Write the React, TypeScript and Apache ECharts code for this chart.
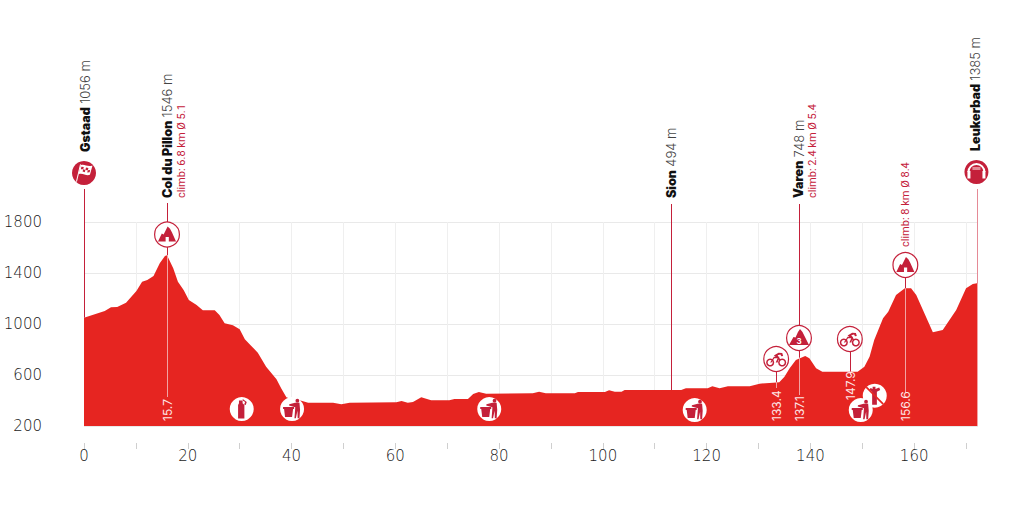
import React, { useEffect, useRef } from "react";
import * as echarts from "echarts";

// ---- profile data (km, metres) ----
const profileKm = [0,4,5.2,6.4,8.1,10.1,11.2,12.2,13.4,14.6,15.6,16,17.2,18.1,19.2,20.2,21.7,22.9,25.2,26.1,27.1,28.7,30,31,32.2,33.5,35.1,37.1,38,39,40,41.9,43.2,48,49.6,51.2,60.2,61.2,62.4,63.4,65,66.9,70.4,71.4,74,75,76.1,77.5,86.5,87.7,89,94.6,95.2,100.4,101.2,102.3,103.6,104.2,115.1,116,120.2,121.1,122.5,124.1,128.3,130.2,132.8,134,135,136,137.2,139,139.8,141.1,142.3,149.1,150.4,151.4,152.3,154,155,156.5,158.2,159.4,160.4,163.6,165.5,168.1,170,171.3,172.1,172.3];
const profileElev = [1050,1102,1131,1133,1167,1259,1332,1345,1376,1476,1533,1540,1437,1332,1267,1188,1149,1107,1107,1071,1005,990,958,880,830,775,665,566,496,425,410,398,383,383,370,383,386,396,383,388,425,401,401,412,412,451,467,453,456,469,456,456,467,467,480,469,469,482,482,496,496,511,496,511,511,532,540,543,587,652,718,749,731,652,626,626,665,743,875,1045,1097,1227,1280,1280,1227,935,953,1110,1280,1314,1320,1320];

// ---- axis labels ----
const xTickValues = [0,10,20,30,40,50,60,70,80,90,100,110,120,130,140,150,160,170];
const xLabelValues = [0,20,40,60,80,100,120,140,160];
const yLabelValues = [200,600,1000,1400,1800];

// ---- places ----
const placeNames = ["Gstaad","Col du Pillon","Sion","Varen","Leukerbad"];
const placeHeights = ["1056 m","1546 m","494 m","748 m","1385 m"];
const placeKm = [0,16,113.2,137.8,172.2];

// ---- climbs ----
const climbTexts = ["climb: 6.8 km Ø 5.1","climb: 2.4 km Ø 5.4","climb: 8 km Ø 8.4"];
const climbKm = [16,137.8,158.3];

// ---- stems and km readings ----
const stemKm = [0,16,113.2,137.8,158.3,133.4,147.6,172.2];
const stemElev = [1050,1540,482,735,1280,543,626,1320];
const stemLabels = ["","15.7","","137.1","156.6","133.4","147.9",""];

// ---- badges ----
const badgeKinds = ["flag","mountain1","mountain3","mountain1","bike","bike","bus"];
const badgeKm = [0,16,137.8,158.3,133.4,147.6,172.0];

// ---- feed / waste zones ----
const zoneKinds = ["bottle","trash","trash","trash","nolitter","trash"];
const zoneKm = [30.4,40.1,78.1,117.7,152.4,149.7];
const zoneElev = [333,333,333,325,438,325];

// ---- layout (pixels), separate from the data ----
const FONT = "Inter, Roboto, sans-serif";
const TICKFONT = "'DejaVu Sans', Inter, sans-serif";
const CRIMSON = "#c4203a";
const RED = "#e62521";
const PINK = "#f2a3a3";
const placeTextBottom = [152,198,198,198,151];
const placeTextDx = [1,0,0,0,-2];
const climbTextBottom = [198,198,247];
const climbTextDx = [14,13.5,0];
const stemTop = [189,203,204,204,278,372,352,189];
const stemBottom = [0,397,0,395,393,388,375,426];
const stemTextBottom = [0,421,0,421,421,421,400,0];
const badgeY = [173,234.5,338,265,359,339,172];

const P = {
  mountain1: "M0 15 L3.8 7 L5.6 8 L9.6 0 L12 2.2 L14 6 L18 15 L10.8 15 L10.8 10.5 L7.6 10.5 L7.6 15 Z",
  mountain3: "M0 16 L4.5 8 L6.5 8.6 L9 3 L11 0 L13.5 3 L15 6 L20 16 Z",
  trashBin: "M-9 -1 L2 -1 L2 1 L1 1 L0 9 L-7 9 L-8 1 L-9 1 Z",
  trashMan: "M3.4 -8.2 A1.9 1.9 0 1 1 7.2 -8.2 A1.9 1.9 0 1 1 3.4 -8.2 Z M3 -6 L7.4 -6 L8 1 L7.4 9.5 L5.6 9.5 L5.4 2 L3.8 9.5 L2.4 9.5 L3.2 -1.6 L-3 -3.4 L-2.8 -4.6 Z",
  bottle: "M-3 -10 L1 -10 L1 -7 L3 -5 L3 10 L-4 10 L-4 -5 L-3 -7 Z",
  bottleCap: "M2 -11 L6 -8 L5 -5 L3.4 -5.5 L4.4 -8 L2 -9.6 Z",
  bikeFrame: "M-7 3 L-3 -3 L3 -3 L1 3 L-1 3 L1 -1.5 L-2.5 -1.5 L-5.5 3 Z M-3 -4.5 L2 -7.5 L6 -7 L7 -4 L5 -3.5 L4 -5.4 L1 -4.6 L4 0 L3 1 L-1 -3 Z",
  flag: "M-3.4 -7.8 C0.5 -9.6 3.6 -5.4 8.6 -7.6 L6 2 C2 3.6 -1 -0.2 -5.6 1.4 Z",
  pole: "M-3.8 -9 L-2.8 -8.8 L-7 9 L-8 8.8 Z",
  flagCheck: "M-2.2 -6.4 L0.2 -6.2 L-0.4 -4 L-2.8 -4 Z M2.4 -5.6 L4.8 -5.2 L4.2 -3 L1.8 -3.2 Z M-0.4 -4 L1.8 -3.2 L1.2 -1 L-1 -1.6 Z M4.2 -3 L6.6 -3.2 L6 -1 L3.6 -0.8 Z",
  nolitter: "M-2 -10 L1 -10 L1 -7.5 L5 -9 L6 -6.5 L2.5 -4.6 L2.5 9 L-2.5 9 L-2.5 -4.6 L-5.5 -7 L-4 -8.6 L-2 -7.5 Z",
};

function icon(d: string, cx: number, cy: number, w: number, h: number, fill: string) {
  return { type: "path", shape: { pathData: d, x: cx - w / 2, y: cy - h / 2, width: w, height: h, layout: "center" }, style: { fill } };
}
function disc(cx: number, cy: number, r: number, fill: string, stroke?: string, lineWidth = 1.2) {
  return { type: "circle", shape: { cx, cy, r }, style: { fill, stroke, lineWidth } };
}
function seg(x: number, y1: number, y2: number, stroke: string, lineWidth = 1) {
  const rx = Math.round(x) + 0.5;
  return { type: "line", shape: { x1: rx, y1, x2: rx, y2 }, style: { stroke, lineWidth } };
}
function badgeGlyph(kind: string, x: number, y: number): any[] {
  if (kind === "flag") {
    return [
      icon(P.pole, x - 5.5, y, 5, 18, "#fff"),
      icon(P.flag, x + 1.5, y - 3, 14, 11, "#fff"),
      icon(P.flagCheck, x + 1.5, y - 3.4, 9.4, 5.6, CRIMSON),
    ];
  }
  if (kind === "mountain1") {
    return [icon(P.mountain1, x, y - 0.5, 18, 15, CRIMSON)];
  }
  if (kind === "mountain3") {
    return [
      icon(P.mountain3, x, y - 1, 20, 16, CRIMSON),
      { type: "text", x, y: y + 3, style: { text: "3", fill: "#fff", font: "700 8px " + FONT, align: "center", verticalAlign: "middle" } },
    ];
  }
  if (kind === "bike") {
    return [
      disc(x - 6, y + 3.5, 3.3, "none", CRIMSON, 1.5),
      disc(x + 6, y + 3.5, 3.3, "none", CRIMSON, 1.5),
      icon(P.bikeFrame, x + 0.5, y - 1.5, 13, 10, CRIMSON),
    ];
  }
  if (kind === "bus") {
    return [
      { type: "arc", shape: { cx: x, cy: y, r: 8, startAngle: Math.PI, endAngle: 2 * Math.PI }, style: { stroke: "#fff", lineWidth: 2, fill: "none" } },
      { type: "rect", shape: { x: x - 9, y: y - 1, width: 3, height: 7.5 }, style: { fill: "#fff" } },
      { type: "rect", shape: { x: x + 6, y: y - 1, width: 3, height: 7.5 }, style: { fill: "#fff" } },
      { type: "rect", shape: { x: x - 4, y: y - 5, width: 8, height: 3 }, style: { fill: "#e58a96" } },
    ];
  }
  return [];
}
function zoneGlyph(kind: string, x: number, y: number): any[] {
  if (kind === "bottle") {
    return [icon(P.bottle, x - 0.5, y + 0.5, 7, 18, CRIMSON), icon(P.bottleCap, x + 3, y - 7, 5, 6, CRIMSON)];
  }
  if (kind === "trash") {
    return [icon(P.trashBin, x - 3.5, y + 3, 11, 10, CRIMSON), icon(P.trashMan, x + 2.5, y - 0.5, 11, 20, CRIMSON)];
  }
  if (kind === "nolitter") {
    return [
      icon(P.nolitter, x, y, 11, 18, CRIMSON),
      { type: "line", shape: { x1: x - 8.5, y1: y - 8.5, x2: x + 8.5, y2: y + 8.5 }, style: { stroke: RED, lineWidth: 1.8 } },
    ];
  }
  return [];
}

const pairs = (a: number[], b: number[]) => a.map((v, i) => [v, b[i]]);
const onAxis = (a: number[]) => a.map((v) => [v, 200]);

export default function App() {
  const ref = useRef<HTMLDivElement>(null);
  useEffect(() => {
    const chart = echarts.init(ref.current!, null, { renderer: "svg" });
    const baseCustom = { type: "custom", coordinateSystem: "cartesian2d", clip: false, silent: true, encode: { x: 0, y: 1 } };
    const plain = (v: number) => String(v);
    chart.setOption({
      animation: false,
      backgroundColor: "#fff",
      grid: { left: 84, right: 46, top: 222, bottom: 86 },
      xAxis: {
        type: "value", min: 0, max: 172.3, interval: 10, offset: 17,
        axisLine: { show: false },
        axisTick: { show: true, length: 6, customValues: xTickValues, lineStyle: { color: "#cfcfcf", width: 1 } },
        axisLabel: { customValues: xLabelValues, formatter: plain, margin: 5, fontSize: 15, fontFamily: TICKFONT, fontWeight: 200, color: "#1a1a1a" },
        splitLine: { show: true, lineStyle: { color: "#efefef", width: 1 } },
      },
      yAxis: {
        type: "value", min: 200, max: 1800, interval: 200,
        axisLine: { show: false },
        axisTick: { show: false, customValues: yLabelValues },
        axisLabel: { customValues: yLabelValues, formatter: plain, margin: 42, fontSize: 15, fontFamily: TICKFONT, fontWeight: 200, color: "#1a1a1a" },
        splitLine: { show: true, lineStyle: { color: "#e9e9e9", width: 1 } },
      },
      series: [
        {
          type: "line", data: pairs(profileKm, profileElev), showSymbol: false, silent: true, z: 2,
          lineStyle: { width: 0 }, areaStyle: { color: RED, opacity: 1 },
        },
        {
          ...baseCustom, z: 3, data: pairs(stemKm, stemElev),
          renderItem: (p: any, api: any) => {
            const i = p.dataIndex;
            const [x, y] = api.coord([api.value(0), api.value(1)]);
            const kids: any[] = [seg(x, stemTop[i], y, i === 7 ? "#e58a96" : CRIMSON, 1)];
            if (stemBottom[i]) kids.push(seg(x, y, stemBottom[i], PINK, 1));
            if (stemLabels[i]) {
              kids.push({
                type: "text", x: Math.round(x) + 0.5, y: stemTextBottom[i], rotation: Math.PI / 2,
                style: { text: stemLabels[i], fill: "#fde6e6", font: "400 12px " + FONT, align: "left", verticalAlign: "middle" },
              });
            }
            return { type: "group", children: kids };
          },
        },
        {
          ...baseCustom, z: 4, data: onAxis(placeKm),
          renderItem: (p: any, api: any) => {
            const i = p.dataIndex;
            const [x] = api.coord([api.value(0), 200]);
            return {
              type: "text", x: x + placeTextDx[i], y: placeTextBottom[i], rotation: Math.PI / 2,
              style: {
                text: `{a|${placeNames[i]}} {b|${placeHeights[i]}}`,
                align: "left", verticalAlign: "middle",
                rich: {
                  a: { font: "900 12.5px " + FONT, fill: "#111" },
                  b: { font: "300 13px " + FONT, fill: "#444" },
                },
              },
            };
          },
        },
        {
          ...baseCustom, z: 4, data: onAxis(climbKm),
          renderItem: (p: any, api: any) => {
            const i = p.dataIndex;
            const [x] = api.coord([api.value(0), 200]);
            return {
              type: "text", x: x + climbTextDx[i], y: climbTextBottom[i], rotation: Math.PI / 2,
              style: { text: climbTexts[i], fill: CRIMSON, font: "400 11px Roboto, sans-serif", align: "left", verticalAlign: "middle" },
            };
          },
        },
        {
          ...baseCustom, z: 5, data: onAxis(badgeKm),
          renderItem: (p: any, api: any) => {
            const i = p.dataIndex;
            const kind = badgeKinds[i];
            const [x] = api.coord([api.value(0), 200]);
            const y = badgeY[i];
            const solid = kind === "flag" || kind === "bus";
            const base = solid ? disc(x, y, 12, CRIMSON, "none") : disc(x, y, 12.4, "#fff", CRIMSON, 1.2);
            return { type: "group", children: [base, ...badgeGlyph(kind, x, y)] };
          },
        },
        {
          ...baseCustom, z: 6, data: pairs(zoneKm, zoneElev),
          renderItem: (p: any, api: any) => {
            const [x, y] = api.coord([api.value(0), api.value(1)]);
            return { type: "group", children: [disc(x, y, 12, "#fff", "none"), ...zoneGlyph(zoneKinds[p.dataIndex], x, y)] };
          },
        },
      ],
    });
    return () => chart.dispose();
  }, []);
  return <div ref={ref} style={{ position: "fixed", left: 0, top: 0, width: 1024, height: 512 }} />;
}
